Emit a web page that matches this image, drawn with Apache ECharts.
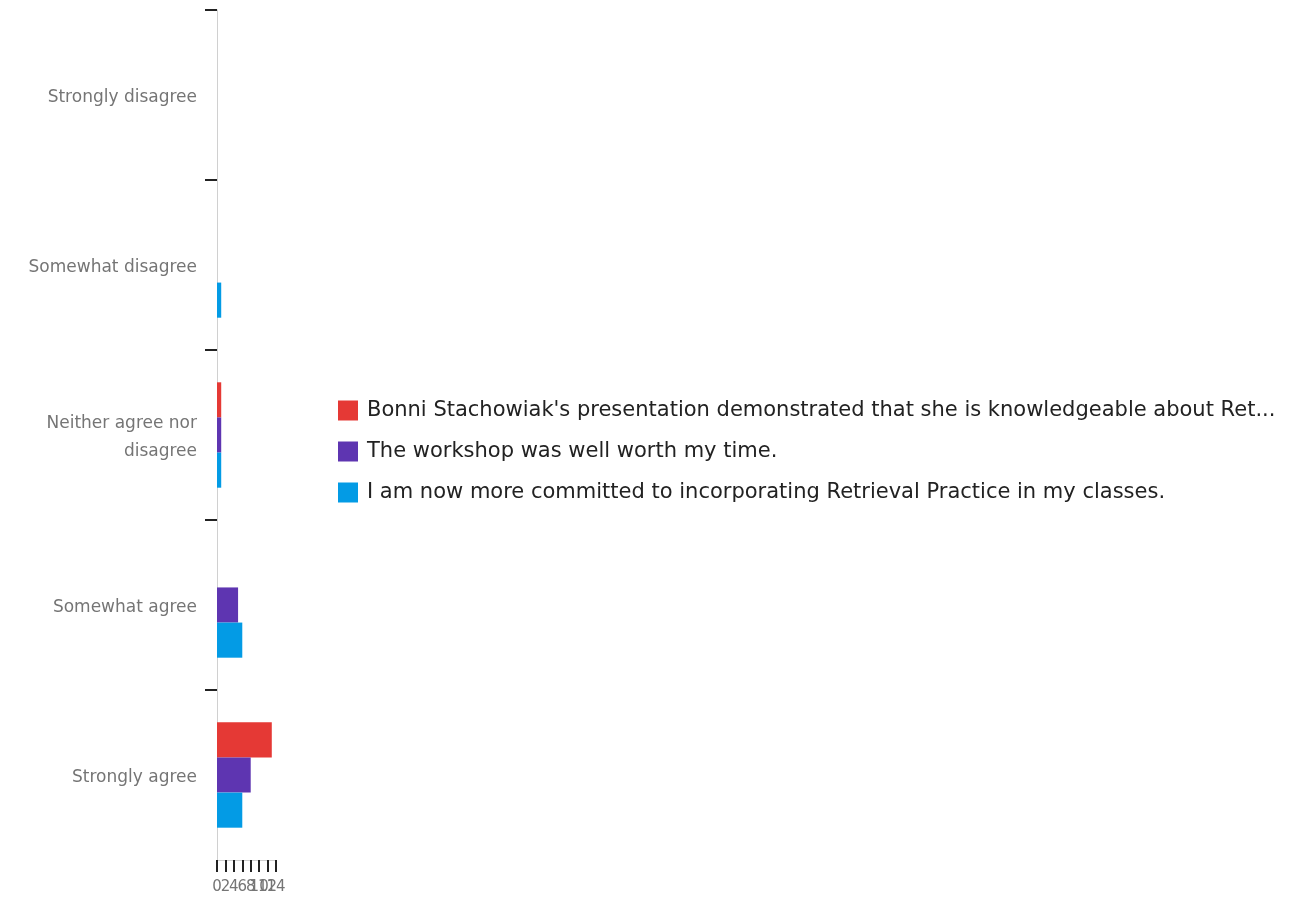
<!DOCTYPE html>
<html>
<head>
<meta charset="utf-8">
<script src="https://cdn.jsdelivr.net/npm/echarts@6/dist/echarts.min.js"></script>
<style>
  html, body { margin: 0; padding: 0; background: #ffffff; }
  #chart { width: 1301px; height: 899px; }
</style>
</head>
<body>
<div id="chart"></div>
<script>
// Survey answer levels, top to bottom
const categories = [
  'Strongly disagree',
  'Somewhat disagree',
  'Neither agree nor disagree',
  'Somewhat agree',
  'Strongly agree'
];

// Number of responses per answer level for each statement
const seriesNames = [
  "Bonni Stachowiak's presentation demonstrated that she is knowledgeable about Retrieval Practice.",
  'The workshop was well worth my time.',
  'I am now more committed to incorporating Retrieval Practice in my classes.'
];
const knowledgeable = [0, 0, 1, 0, 13];
const worthTime = [0, 0, 1, 5, 8];
const committed = [0, 1, 1, 6, 6];

// Count axis tick labels (evenly spaced from 0 to the maximum)
const xTicks = ['0', '2', '4', '6', '8', '10', '12', '14'];

const colors = ['#e53935', '#5e35b1', '#039be5'];
const values = [knowledgeable, worthTime, committed];

// Category labels that wrap onto two lines
const wrapped = { 'Neither agree nor disagree': 'Neither agree nor\ndisagree' };

// Category boundaries that get a tick mark (the bottom edge has none)
const boundaryTicks = categories.map((_, i) => i);

const FONT = '"DejaVu Sans", Verdana, sans-serif';
const xMax = Number(xTicks[xTicks.length - 1]);

const chart = echarts.init(document.getElementById('chart'));
chart.setOption({
  animation: false,
  color: colors,
  textStyle: { fontFamily: FONT },
  grid: { left: 217, right: 1025, top: 10, bottom: 39, containLabel: false },
  legend: {
    orient: 'vertical',
    left: 333,
    top: 395,
    itemWidth: 20,
    itemHeight: 20,
    itemGap: 20,
    icon: 'rect',
    textStyle: {
      fontFamily: FONT,
      fontSize: 21,
      lineHeight: 20,
      color: '#222222',
      width: 916,
      overflow: 'truncate',
      ellipsis: '...',
      padding: [0, 0, 0, 4]
    },
    data: seriesNames
  },
  xAxis: [
    {
      // value scale the bars are measured on
      type: 'value',
      min: 0,
      max: xMax,
      show: false
    },
    {
      // visible count axis: one tick per label, all labels kept
      type: 'category',
      position: 'bottom',
      boundaryGap: false,
      data: xTicks,
      axisLine: { show: true, onZero: false, lineStyle: { color: '#d0d0d0', width: 1 } },
      axisTick: { show: true, interval: 0, length: 12, lineStyle: { color: '#222222', width: 2 } },
      axisLabel: {
        interval: 0,
        color: '#757575',
        fontFamily: FONT,
        fontSize: 15,
        margin: 20
      }
    }
  ],
  yAxis: [
    {
      type: 'category',
      inverse: true,
      data: categories,
      axisLine: { show: true, onZero: false, lineStyle: { color: '#d0d0d0', width: 1 } },
      axisTick: { show: false },
      axisLabel: {
        color: '#757575',
        fontFamily: FONT,
        fontSize: 17,
        margin: 20,
        lineHeight: 28,
        // a thin spacer line above each label sets it slightly below the band centre
        formatter: v => '{s| }\n' + (wrapped[v] || v),
        rich: { s: { fontSize: 1, lineHeight: 6, height: 6 } }
      }
    },
    {
      // tick marks at the top edge of each answer band
      type: 'value',
      inverse: true,
      position: 'left',
      min: 0,
      max: categories.length,
      interval: 1,
      axisLine: { show: false, onZero: false },
      splitLine: { show: false },
      axisLabel: { show: false },
      axisTick: {
        show: true,
        length: 12,
        customValues: boundaryTicks,
        lineStyle: { color: '#222222', width: 2 }
      }
    }
  ],
  series: seriesNames.map((name, i) => ({
    name: name,
    type: 'bar',
    xAxisIndex: 0,
    yAxisIndex: 0,
    data: values[i],
    barGap: '0%',
    barCategoryGap: '38%',
    itemStyle: { color: colors[i] }
  }))
});
</script>
</body>
</html>
